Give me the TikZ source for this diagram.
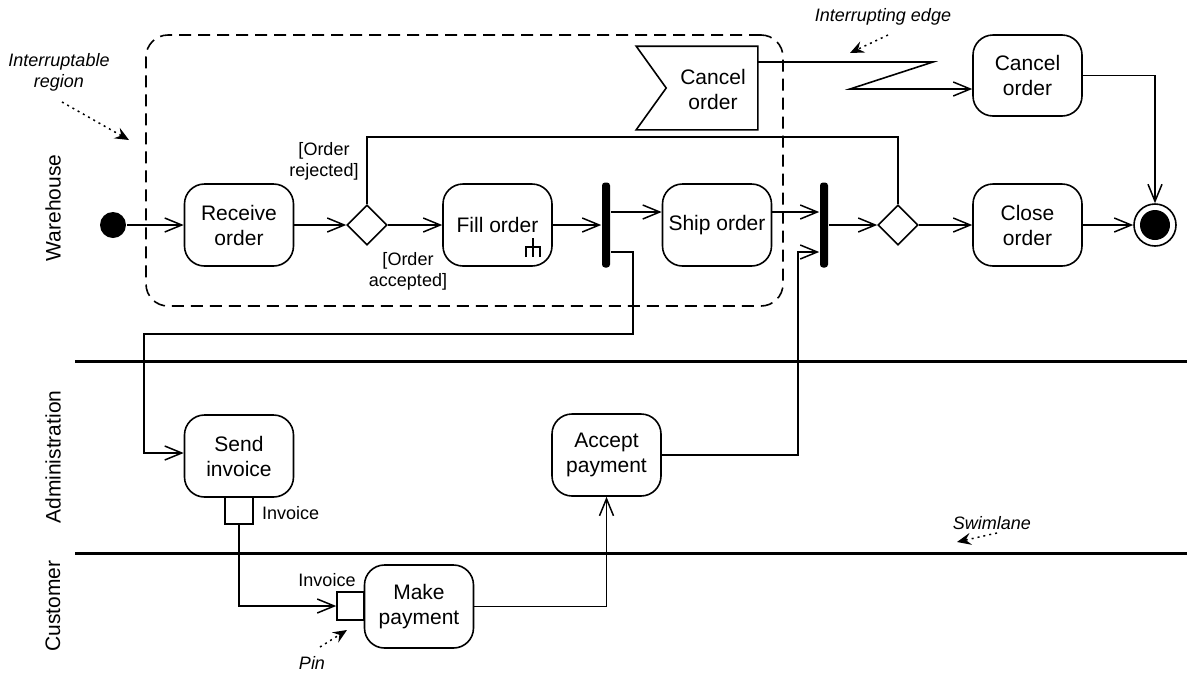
\documentclass[tikz,border=0pt]{standalone}
\usepackage{fontspec}
\setmainfont{Liberation Sans}
\usetikzlibrary{arrows.meta,shapes.geometric}
\begin{document}
\begin{tikzpicture}[x=1pt,y=-1pt,
  line width=1.6pt,
  bigfont/.style={font=\fontsize{21}{25}\selectfont},
  smallfont/.style={font=\fontsize{18}{21}\selectfont},
  notefont/.style={font=\fontsize{18}{21}\selectfont\itshape},
  action/.style={draw, rounded corners=20pt, minimum width=109pt, minimum height=82pt,
    align=center, inner sep=0pt, bigfont},
  decision/.style={draw, diamond, minimum width=40pt, minimum height=40pt, inner sep=0pt},
  bar/.style={fill=black, draw=none, rounded corners=3pt, minimum width=8pt,
    minimum height=85pt, inner sep=0pt},
  pinbox/.style={draw, minimum width=28pt, minimum height=27pt, inner sep=0pt},
  arr/.style={-{Straight Barb[length=17pt,width=14pt,line width=1.5pt]}},
  notearr/.style={line width=1.5pt, dash pattern=on 2pt off 4pt,
    -{Stealth[length=14pt,width=12pt,inset=5pt]}},
  lane/.style={line width=3pt},
]
\useasboundingbox (0,0) rectangle (1187,673);

% interruptable region
\node[draw, dash pattern=on 12pt off 7pt, rounded corners=22pt, line width=1.6pt,
  minimum width=637pt, minimum height=271pt, inner sep=0pt] (region) at (464.5,170.5) {};

% swimlanes
\coordinate (l1a) at (75,361); \coordinate (l1b) at (1187,361);
\coordinate (l2a) at (75,553); \coordinate (l2b) at (1187,553);
\draw[lane] (l1a) -- (l1b);
\draw[lane] (l2a) -- (l2b);
\node[bigfont, rotate=90] (wh) at (53,208) {Warehouse};
\node[bigfont, rotate=90] (adm) at (53,457) {Administration};
\node[bigfont, rotate=90] (cust) at (53,606) {Customer};

% nodes
\node[circle, fill=black, minimum size=26pt, inner sep=0pt] (init) at (113,225) {};
\node[action] (recv) at (239,225) {Receive\\order};
\node[decision] (dec1) at (367,225) {};
\node[action] (fill) at (497.5,225) {Fill order};
\node[bar] (fork1) at (606,225) {};
\node[action] (ship) at (717,225) {Ship order};
\node[bar] (join) at (824,225) {};
\node[decision] (dec2) at (898,225) {};
\node[action] (close) at (1027.5,225) {Close\\order};
\node[circle, draw, minimum size=42pt, inner sep=0pt] (final) at (1155,225) {};
\fill (final.center) circle (15pt);
\node[action, minimum height=81pt] (cancelA) at (1027.5,75.5) {Cancel\\order};

% accept event signal
\node[minimum width=120pt, minimum height=82pt, inner sep=0pt] (sig) at (697,88) {};
\draw (sig.north west) -- (sig.north east) -- (sig.south east) -- (sig.south west)
  -- ([xshift=30pt]sig.west) -- cycle;
\node[bigfont, align=center] (sigtext) at (713,89) {Cancel\\order};

% rake icon
\draw (533,238) -- (533,257);
\draw (526,257) -- (526,247) -- (540,247) -- (540,257);

\node[action] (send) at (239,456) {Send\\invoice};
\node[action] (accept) at (606.5,455) {Accept\\payment};
\node[action, minimum height=83pt] (make) at (419,606.5) {Make\\payment};
\node[pinbox] (pin1) at (239,510.5) {};
\node[pinbox, minimum width=27pt, minimum height=28pt] (pin2) at (350.5,606) {};
\node[smallfont, anchor=west] (pin1lab) at (258,513) {Invoice};
\node[smallfont] (pin2lab) at (327,580) {Invoice};

% guard labels
\node[smallfont, align=center] (rej) at (324,161) {[Order\\rejected]};
\node[smallfont, align=center] (acc) at (408,271) {[Order\\accepted]};

% helper coordinates
\coordinate (ya) at (0,212);
\coordinate (yb) at (0,252);
\coordinate (ytop) at (0,137);
\coordinate (c1) at (633,334);
\coordinate (c2) at (144,453);
\coordinate (c3) at (798,252);
\coordinate (z0) at (0,62);
\coordinate (z1) at (933,62);
\coordinate (z2) at (850,89);

% connectors
\draw[arr] (init) -- (recv);
\draw[arr] (recv) -- (dec1);
\draw[arr] (dec1) -- (fill);
\draw[arr] (fill) -- (fork1.west);
\draw[arr] (fork1.east |- ya) -- (ship.west |- ya);
\draw[arr] (ship.east |- ya) -- (join.west |- ya);
\draw[arr] (fork1.east |- yb) -| (c1) -| (c2) -- (send.west |- c2);
\draw[arr] (accept.east) -| (c3) -- (join.west |- yb);
\draw[arr] (join.east) -- (dec2);
\draw[arr] (dec2) -- (close);
\draw[arr] (close) -- (final);
\draw (dec1.north) -- (dec1.north |- ytop) -| (dec2.north);
\draw[arr] (sig.east |- z0) -- (z1) -- (z2) -- (cancelA.west |- z2);
\draw[arr] (cancelA.east) -| (final.north);
\draw[arr] (pin1.south) |- (pin2.west);
\draw[arr] (make.east) -| (accept.south);

% annotations
\node[notefont, align=center] (n1) at (59,72) {Interruptable\\region};
\coordinate (n1a) at (62,102); \coordinate (n1b) at (129,140);
\draw[notearr] (n1a) -- (n1b);
\node[notefont] (n2) at (883,17) {Interrupting edge};
\coordinate (n2a) at (888,35); \coordinate (n2b) at (850,53);
\draw[notearr] (n2a) -- (n2b);
\node[notefont] (n3) at (992,523) {Swimlane};
\coordinate (n3a) at (997,533); \coordinate (n3b) at (957,542);
\draw[notearr] (n3a) -- (n3b);
\node[notefont] (n4) at (312,663) {Pin};
\coordinate (n4a) at (320,647); \coordinate (n4b) at (347,630);
\draw[notearr] (n4a) -- (n4b);
\end{tikzpicture}
\end{document}
